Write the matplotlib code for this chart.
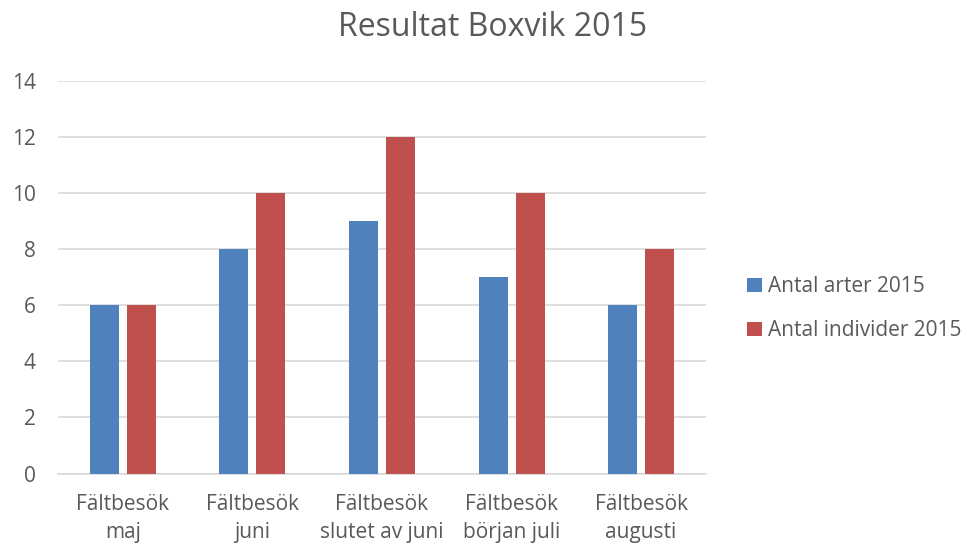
import numpy as np
import matplotlib.pyplot as plt

plt.rcParams['font.family'] = ['Open Sans', 'DejaVu Sans']

# Data
categories = ["Fältbesök\nmaj", "Fältbesök\njuni", "Fältbesök\nslutet av juni",
              "Fältbesök\nbörjan juli", "Fältbesök\naugusti"]
arter = [6, 8, 9, 7, 6]
individer = [6, 10, 12, 10, 8]
series_names = ["Antal arter 2015", "Antal individer 2015"]

textColor = "#595959"
blue = "#4F81BD"
red = "#C0504D"

fig = plt.figure(figsize=(9.67, 5.49), dpi=100)
ax = fig.add_axes([0.06, 0.1375, 0.670, 0.715])

x = np.arange(len(categories))
barWidth = 0.224
offset = 0.143
ax.bar(x - offset, arter, barWidth, color=blue, label=series_names[0], zorder=3)
ax.bar(x + offset, individer, barWidth, color=red, label=series_names[1], zorder=3)

ax.set_xlim(-0.5, len(categories) - 0.5)
ax.set_ylim(0, 14)
ax.set_yticks(range(0, 15, 2))
ax.yaxis.grid(True, color="#D9D9D9", linewidth=1.2, zorder=0)
ax.set_xticks(x)
ax.set_xticklabels(categories, fontsize=15, color=textColor, linespacing=1.4)
ax.tick_params(axis="y", labelsize=15, labelcolor=textColor, length=0, pad=16)
ax.tick_params(axis="x", length=0, pad=15)

for side in ["top", "right", "left"]:
    ax.spines[side].set_visible(False)
ax.spines["bottom"].set_color("#D9D9D9")
ax.spines["bottom"].set_linewidth(1.2)

fig.text(0.509, 0.95, "Resultat Boxvik 2015", ha="center", va="center",
         fontsize=23, color=textColor)

leg = ax.legend(loc="center left", bbox_to_anchor=(1.035, 0.42), frameon=False,
                fontsize=15, handlelength=0.7, handleheight=0.7,
                handletextpad=0.3, labelspacing=1.1)
for t in leg.get_texts():
    t.set_color(textColor)

fig.savefig("out.png", dpi=100)
